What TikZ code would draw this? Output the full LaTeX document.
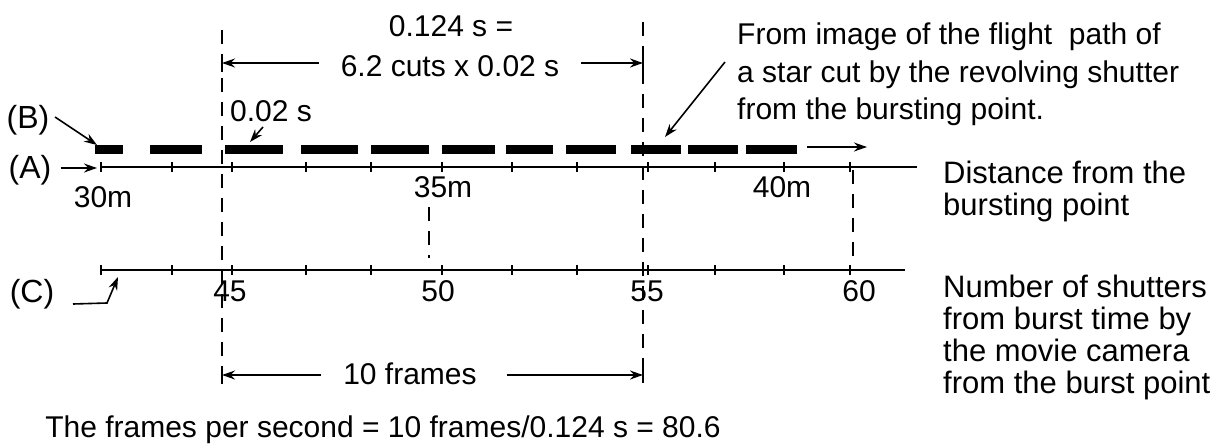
\documentclass[tikz,border=0pt]{standalone}
\usepackage{fontspec}
\setmainfont{Liberation Sans}
\usetikzlibrary{arrows.meta,positioning,calc}
\tikzset{
  lbl/.style={font=\fontsize{30}{33}\selectfont, inner sep=0pt},
  side/.style={font=\fontsize{32}{34}\selectfont, inner sep=0pt},
  note/.style={font=\fontsize{31}{32}\selectfont, inner sep=0pt, align=left, anchor=north west},
  axis/.style={line width=2pt},
  tickmark/.style={line width=1.6pt},
  guide/.style={line width=2pt, dash pattern=on 14pt off 10pt},
  ptr/.style={line width=1.6pt, -{Stealth[length=13pt,width=9pt]}},
}

\begin{document}
\begin{tikzpicture}[x=1pt,y=-1pt]
  \useasboundingbox (0,0) rectangle (1222,447);
  % axes (A) and (C)
  \coordinate (A0) at (100,167); \coordinate (A1) at (917,167);
  \coordinate (C0) at (101,270); \coordinate (C1) at (905,270);
  \draw[axis] (A0) -- (A1);
  \draw[axis] (C0) -- (C1);
  \foreach \x in {101,172,232,306,371,442,512,577,648,715,784,850}{
    \draw[tickmark] (\x,162) -- (\x,172);
    \draw[tickmark] (\x,265) -- (\x,275);
  }
  % cuts of the star path (B)
  \foreach \a/\b in {95/123,150/202,225/283,301/358,371/429,442/495,
                     506/553,566/616,631/681,688/738,746/797}
    \fill (\a,144.5) rectangle (\b,153.5);
  \coordinate (cut1) at (97,145);
  \coordinate (cut3) at (250,142);
  \coordinate (cut9) at (665,137);
  \coordinate (pathA) at (807,147); \coordinate (pathB) at (867,147);
  \draw[ptr, line width=1.4pt] (pathA) -- (pathB);
  % dashed guides
  \coordinate (g1t) at (222,30);  \coordinate (g1b) at (222,385);
  \coordinate (g2t) at (643,22);  \coordinate (g2b) at (643,375);
  \coordinate (g3t) at (429,207); \coordinate (g3b) at (429,258);
  \coordinate (g4t) at (853,170); \coordinate (g4b) at (853,262);
  \draw[guide] (g1t) -- (g1b);
  \draw[guide] (g2t) -- (g2b);
  \draw[guide] (g3t) -- (g3b);
  \draw[guide] (g4t) -- (g4b);
  \draw[line width=2pt] (222,56) -- (222,72);
  \draw[line width=2pt] (643,56) -- (643,72);
  \draw[line width=2pt] (222,368) -- (222,384);
  \draw[line width=2pt] (643,367) -- (643,383);
  % labels on the left
  \node[side] (lblB) at (28,120) {(B)};
  \node[side] (lblA) at (30,170) {(A)};
  \node[side] (lblC) at (32,294) {(C)};
  \coordinate (cbend) at (107,303);
  \coordinate (cend) at (118,277);
  \draw[ptr] (55,117) -- (cut1);
  \draw[ptr] ($(lblA.east)+(9,-2)$) -- ($(A0)+(-3,1)$);
  \draw[ptr] (73,304) -- (cbend) -- (cend);
  % distance scale
  \node[lbl] (m30) at (103,197) {30m};
  \node[lbl] (m35) at (443,187) {35m};
  \node[lbl] (m40) at (782,187) {40m};
  % shutter counts
  \node[lbl] (n45) at (230,291) {45};
  \node[lbl] (n50) at (438,291) {50};
  \node[lbl] (n55) at (647,291) {55};
  \node[lbl] (n60) at (859,291) {60};
  % time span on top
  \node[lbl] (span1) at (451,26) {0.124 s =};
  \node[lbl] (span2) at (450,66) {6.2 cuts x 0.02 s};
  \draw[ptr] ($(span2.west)+(-22,-3)$) -- (222,63);
  \draw[ptr] ($(span2.east)+(22,-3)$) -- (643,63);
  \node[lbl] (cutlen) at (271,111) {0.02 s};
  \draw[ptr] (263,127) -- (cut3);
  % frame span below
  \node[lbl] (frames) at (410,374) {10 frames};
  \draw[ptr] ($(frames.west)+(-22,1)$) -- (222,375);
  \draw[ptr] ($(frames.east)+(30,1)$) -- (643,375);
  % notes
  \node[note, font=\fontsize{30}{37.5}\selectfont] (image) at (737,23)
    {From image of the flight\ \ path of\\a star cut by the revolving shutter\\from the bursting point.};
  \draw[ptr] (725,62) -- (cut9);
  \node[note] (dist) at (943,161) {Distance from the\\bursting point};
  \node[note] (count) at (943,275) {Number of shutters\\from burst time by\\the movie camera\\from the burst point};
  \node[lbl] (fps) at (383,430) {The frames per second = 10 frames/0.124 s = 80.6};
\end{tikzpicture}
\end{document}
